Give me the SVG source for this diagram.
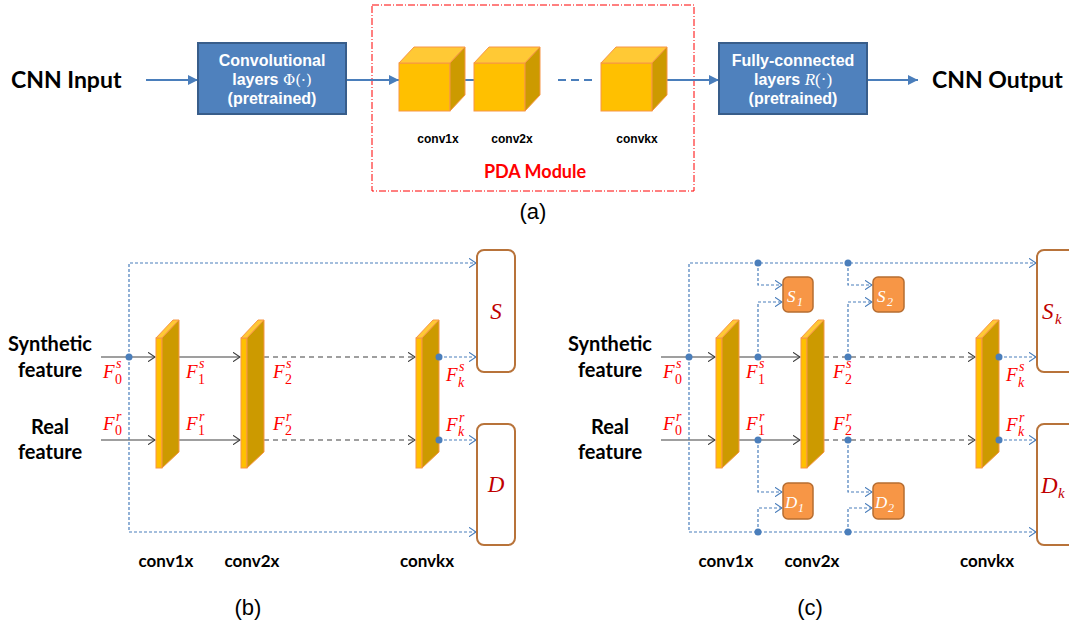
<svg xmlns="http://www.w3.org/2000/svg" width="1069" height="625" viewBox="0 0 1069 625">
<defs>
<style>
.cal{font-family:Lato,"Open Sans",sans-serif;font-weight:bold;fill:#000}
.ari{font-family:"Liberation Sans",Arial,sans-serif}
.boxt{font-family:"Liberation Sans",Arial,sans-serif;font-weight:bold;font-size:16px;fill:#fff;text-anchor:middle}
.math{font-family:"Liberation Serif","DejaVu Serif",serif;font-style:italic}
.lab{font-family:"Liberation Serif","DejaVu Serif",serif;font-style:italic;fill:#ff0000;font-size:19px}
.sup{font-family:"Liberation Serif","DejaVu Serif",serif;font-style:italic;fill:#ff0000;font-size:14px}
.sub{font-family:"Liberation Serif","DejaVu Serif",serif;fill:#ff0000;font-size:14px}
.subk{font-family:"Liberation Serif","DejaVu Serif",serif;font-style:italic;fill:#ff0000;font-size:14px}
.bluebox{fill:#4f81bd;stroke:#385d8a;stroke-width:2}
.aline{stroke:#4a7ebb;stroke-width:2;fill:none}
.blk{stroke:#404040;stroke-width:1.2;fill:none}
.blkd{stroke:#404040;stroke-width:1.2;fill:none;stroke-dasharray:5 4}
.bl{stroke:#4a7ebb;stroke-width:1.2;fill:none;stroke-dasharray:3 2}
.dot{fill:#4a7ebb}
.front{fill:#ffc000;stroke:#f79646;stroke-width:1}
.side{fill:#cc9a00;stroke:#f79646;stroke-width:1}
.top{fill:#ffc935;stroke:#f79646;stroke-width:1}
.disc{fill:#fff;stroke:#b8733a;stroke-width:2}
.obox{fill:#f79646;stroke:#b66d31;stroke-width:1.5}
</style>
<marker id="ma" viewBox="0 0 10 10" refX="10" refY="5" markerWidth="10" markerHeight="10" markerUnits="userSpaceOnUse" orient="auto"><path d="M0,0 L10,5 L0,10 z" fill="#4a7ebb"/></marker>
<marker id="mk" viewBox="0 0 10 12" refX="9" refY="6" markerWidth="8" markerHeight="10" markerUnits="userSpaceOnUse" orient="auto"><path d="M0,0 L9,6 L0,12" fill="none" stroke="#404040" stroke-width="1.4"/></marker>
<marker id="mb" viewBox="0 0 10 12" refX="9" refY="6" markerWidth="8" markerHeight="10" markerUnits="userSpaceOnUse" orient="auto"><path d="M0,0 L9,6 L0,12" fill="none" stroke="#4a7ebb" stroke-width="1.4"/></marker>
<g id="slab">
<rect class="front" x="0" y="338" width="6" height="130"/>
<polygon class="top" points="0,338 17,320 23,320 6,338"/>
<polygon class="side" points="6,338 23,320 23,452 6,468"/>
</g>
<g id="cube">
<rect class="front" x="0" y="63" width="51" height="48"/>
<polygon class="top" points="0,63 15,47 66,47 51,63"/>
<polygon class="side" points="51,63 66,47 66,95 51,111"/>
</g>
</defs>
<rect width="1069" height="625" fill="#fff"/>

<!-- (a) -->
<g id="a-texts">
<text class="cal" x="11" y="88" font-size="23">CNN Input</text>
<text class="cal" x="932" y="88" font-size="23">CNN Output</text>
<text class="ari" x="533" y="219" font-size="22" text-anchor="middle">(a)</text>
</g>
<g id="pda">
<rect x="372" y="5" width="322" height="186" fill="none" stroke="#ff0000" stroke-width="1" stroke-dasharray="7 2 1 2"/>
<text x="535" y="178" font-family="Lato,'Open Sans',sans-serif" font-weight="bold" font-size="18" fill="#ff0000" text-anchor="middle">PDA Module</text>
</g>
<g id="a-connectors">
<line class="aline" x1="146" y1="80" x2="198" y2="80" marker-end="url(#ma)"/>
<line class="aline" x1="346" y1="80" x2="399" y2="80" marker-end="url(#ma)"/>
<line class="aline" x1="465" y1="80" x2="474" y2="80"/>
<line class="aline" x1="558" y1="80" x2="592" y2="80" stroke-dasharray="8 5"/>
<line class="aline" x1="667" y1="80" x2="719" y2="80" marker-end="url(#ma)"/>
<line class="aline" x1="867" y1="80" x2="918" y2="80" marker-end="url(#ma)"/>
</g>
<g id="conv-box">
<rect class="bluebox" x="198" y="43" width="148" height="71"/>
<text class="boxt" x="272" y="66">Convolutional</text>
<text class="boxt" x="272" y="85">layers <tspan font-family="'DejaVu Serif','Liberation Serif',serif" font-weight="normal" font-size="15">Φ(·)</tspan></text>
<text class="boxt" x="272" y="104">(pretrained)</text>
</g>
<g id="fc-box">
<rect class="bluebox" x="719" y="43" width="148" height="71"/>
<text class="boxt" x="793" y="66">Fully-connected</text>
<text class="boxt" x="793" y="85">layers <tspan font-family="'Liberation Serif',serif" font-weight="normal" font-style="italic" font-size="17">R</tspan><tspan font-family="'Liberation Serif',serif" font-weight="normal" font-size="17">(·)</tspan></text>
<text class="boxt" x="793" y="104">(pretrained)</text>
</g>
<g id="cube1"><use href="#cube" x="399"/><text class="ari" x="438" y="143" font-size="12" font-weight="bold" text-anchor="middle">conv1x</text></g>
<g id="cube2"><use href="#cube" x="474"/><text class="ari" x="512" y="143" font-size="12" font-weight="bold" text-anchor="middle">conv2x</text></g>
<g id="cube3"><use href="#cube" x="601"/><text class="ari" x="637" y="143" font-size="12" font-weight="bold" text-anchor="middle">convkx</text></g>

<!-- (b) -->
<g id="b-connectors">
<line class="blk" x1="101" y1="357" x2="155" y2="357" marker-end="url(#mk)"/>
<line class="blk" x1="179" y1="357" x2="240" y2="357" marker-end="url(#mk)"/>
<line class="blkd" x1="264" y1="357" x2="415" y2="357" marker-end="url(#mk)"/>
<line class="blk" x1="101" y1="440" x2="155" y2="440" marker-end="url(#mk)"/>
<line class="blk" x1="179" y1="440" x2="240" y2="440" marker-end="url(#mk)"/>
<line class="blkd" x1="264" y1="440" x2="415" y2="440" marker-end="url(#mk)"/>
<path class="bl" d="M129,357 V263 H476" marker-end="url(#mb)"/>
<path class="bl" d="M129,357 V532 H476" marker-end="url(#mb)"/>
<path class="bl" d="M439,357 H476" marker-end="url(#mb)"/>
<path class="bl" d="M439,440 H476" marker-end="url(#mb)"/>
<circle class="dot" cx="129" cy="357" r="3.5"/>
</g>
<g id="b-input">
<text class="cal" x="50" y="351" font-size="20" text-anchor="middle">Synthetic</text>
<text class="cal" x="50" y="377" font-size="20" text-anchor="middle">feature</text>
<text class="cal" x="50" y="434" font-size="20" text-anchor="middle">Real</text>
<text class="cal" x="50" y="459" font-size="20" text-anchor="middle">feature</text>
</g>
<g id="b-conv1"><use href="#slab" x="156"/><text class="cal" x="166" y="567" font-size="17" text-anchor="middle">conv1x</text></g>
<g id="b-conv2"><use href="#slab" x="241"/><text class="cal" x="252" y="567" font-size="17" text-anchor="middle">conv2x</text></g>
<g id="b-convk"><use href="#slab" x="416"/><text class="cal" x="427" y="567" font-size="17" text-anchor="middle">convkx</text>
<circle class="dot" cx="439" cy="357" r="3.5"/><circle class="dot" cx="439" cy="440" r="3.5"/></g>
<g id="b-S"><rect class="disc" x="477" y="250" width="38" height="122" rx="7"/><text class="math" x="496" y="319" font-size="23" fill="#c00000" text-anchor="middle">S</text></g>
<g id="b-D"><rect class="disc" x="477" y="424" width="38" height="121" rx="7"/><text class="math" x="496" y="492" font-size="23" fill="#c00000" text-anchor="middle">D</text></g>
<g id="b-labels">
<text class="lab" x="103" y="378">F</text><text class="sup" x="116" y="368">s</text><text class="sub" x="115" y="384">0</text>
<text class="lab" x="186" y="378">F</text><text class="sup" x="199" y="368">s</text><text class="sub" x="198" y="384">1</text>
<text class="lab" x="273" y="378">F</text><text class="sup" x="286" y="368">s</text><text class="sub" x="285" y="384">2</text>
<text class="lab" x="446" y="381">F</text><text class="sup" x="459" y="371">s</text><text class="subk" x="458" y="387">k</text>
<text class="lab" x="103" y="430">F</text><text class="sup" x="116" y="421">r</text><text class="sub" x="115" y="435">0</text>
<text class="lab" x="186" y="430">F</text><text class="sup" x="199" y="421">r</text><text class="sub" x="198" y="435">1</text>
<text class="lab" x="273" y="430">F</text><text class="sup" x="286" y="421">r</text><text class="sub" x="285" y="435">2</text>
<text class="lab" x="446" y="431">F</text><text class="sup" x="459" y="422">r</text><text class="subk" x="458" y="436">k</text>
</g>
<text class="ari" x="248" y="615" font-size="22" text-anchor="middle">(b)</text>

<!-- (c) -->
<g id="c-connectors">
<line class="blk" x1="661" y1="357" x2="715" y2="357" marker-end="url(#mk)"/>
<line class="blk" x1="739" y1="357" x2="800" y2="357" marker-end="url(#mk)"/>
<line class="blkd" x1="824" y1="357" x2="975" y2="357" marker-end="url(#mk)"/>
<line class="blk" x1="661" y1="440" x2="715" y2="440" marker-end="url(#mk)"/>
<line class="blk" x1="739" y1="440" x2="800" y2="440" marker-end="url(#mk)"/>
<line class="blkd" x1="824" y1="440" x2="975" y2="440" marker-end="url(#mk)"/>
<path class="bl" d="M689,357 V263 H1036" marker-end="url(#mb)"/>
<path class="bl" d="M689,357 V532 H1036" marker-end="url(#mb)"/>
<path class="bl" d="M758,263 V285 H782" marker-end="url(#mb)"/>
<path class="bl" d="M758,357 V302 H782" marker-end="url(#mb)"/>
<path class="bl" d="M758,440 V492 H782" marker-end="url(#mb)"/>
<path class="bl" d="M758,532 V508 H782" marker-end="url(#mb)"/>
<path class="bl" d="M848,263 V285 H872" marker-end="url(#mb)"/>
<path class="bl" d="M848,357 V302 H872" marker-end="url(#mb)"/>
<path class="bl" d="M848,440 V492 H872" marker-end="url(#mb)"/>
<path class="bl" d="M848,532 V508 H872" marker-end="url(#mb)"/>
<path class="bl" d="M999,357 H1036" marker-end="url(#mb)"/>
<path class="bl" d="M999,440 H1036" marker-end="url(#mb)"/>
<circle class="dot" cx="689" cy="357" r="3.5"/>
<circle class="dot" cx="758" cy="263" r="3.5"/><circle class="dot" cx="848" cy="263" r="3.5"/>
<circle class="dot" cx="758" cy="532" r="3.5"/><circle class="dot" cx="848" cy="532" r="3.5"/>
<circle class="dot" cx="758" cy="357" r="3.5"/><circle class="dot" cx="848" cy="357" r="3.5"/>
<circle class="dot" cx="758" cy="440" r="3.5"/><circle class="dot" cx="848" cy="440" r="3.5"/>
</g>
<g id="c-input">
<text class="cal" x="610" y="351" font-size="20" text-anchor="middle">Synthetic</text>
<text class="cal" x="610" y="377" font-size="20" text-anchor="middle">feature</text>
<text class="cal" x="610" y="434" font-size="20" text-anchor="middle">Real</text>
<text class="cal" x="610" y="459" font-size="20" text-anchor="middle">feature</text>
</g>
<g id="c-conv1"><use href="#slab" x="716"/><text class="cal" x="726" y="567" font-size="17" text-anchor="middle">conv1x</text></g>
<g id="c-conv2"><use href="#slab" x="801"/><text class="cal" x="812" y="567" font-size="17" text-anchor="middle">conv2x</text></g>
<g id="c-convk"><use href="#slab" x="976"/><text class="cal" x="987" y="567" font-size="17" text-anchor="middle">convkx</text>
<circle class="dot" cx="999" cy="357" r="3.5"/><circle class="dot" cx="999" cy="440" r="3.5"/></g>
<g id="c-S1"><rect class="obox" x="783" y="277" width="30" height="35" rx="5"/><text class="math" x="787" y="302" font-size="17" fill="#fff">S</text><text class="math" x="797" y="306" font-size="12" fill="#fff" font-style="normal">1</text></g>
<g id="c-S2"><rect class="obox" x="873" y="277" width="31" height="35" rx="5"/><text class="math" x="877" y="302" font-size="17" fill="#fff">S</text><text class="math" x="887" y="306" font-size="12" fill="#fff" font-style="normal">2</text></g>
<g id="c-D1"><rect class="obox" x="783" y="483" width="30" height="36" rx="5"/><text class="math" x="785" y="508" font-size="17" fill="#fff">D</text><text class="math" x="798" y="512" font-size="12" fill="#fff" font-style="normal">1</text></g>
<g id="c-D2"><rect class="obox" x="873" y="483" width="31" height="36" rx="5"/><text class="math" x="875" y="508" font-size="17" fill="#fff">D</text><text class="math" x="888" y="512" font-size="12" fill="#fff" font-style="normal">2</text></g>
<g id="c-Sk"><rect class="disc" x="1037" y="250" width="38" height="122" rx="7"/><text class="math" x="1042" y="319" font-size="23" fill="#c00000">S</text><text class="math" x="1055" y="324" font-size="15" fill="#c00000">k</text></g>
<g id="c-Dk"><rect class="disc" x="1037" y="424" width="38" height="121" rx="7"/><text class="math" x="1041" y="493" font-size="23" fill="#c00000">D</text><text class="math" x="1058" y="498" font-size="15" fill="#c00000">k</text></g>
<g id="c-labels">
<text class="lab" x="663" y="378">F</text><text class="sup" x="676" y="368">s</text><text class="sub" x="675" y="384">0</text>
<text class="lab" x="746" y="378">F</text><text class="sup" x="759" y="368">s</text><text class="sub" x="758" y="384">1</text>
<text class="lab" x="833" y="378">F</text><text class="sup" x="846" y="368">s</text><text class="sub" x="845" y="384">2</text>
<text class="lab" x="1006" y="381">F</text><text class="sup" x="1019" y="371">s</text><text class="subk" x="1018" y="387">k</text>
<text class="lab" x="663" y="430">F</text><text class="sup" x="676" y="421">r</text><text class="sub" x="675" y="435">0</text>
<text class="lab" x="746" y="430">F</text><text class="sup" x="759" y="421">r</text><text class="sub" x="758" y="435">1</text>
<text class="lab" x="833" y="430">F</text><text class="sup" x="846" y="421">r</text><text class="sub" x="845" y="435">2</text>
<text class="lab" x="1006" y="431">F</text><text class="sup" x="1019" y="422">r</text><text class="subk" x="1018" y="436">k</text>
</g>
<text class="ari" x="810" y="615" font-size="22" text-anchor="middle">(c)</text>
</svg>
